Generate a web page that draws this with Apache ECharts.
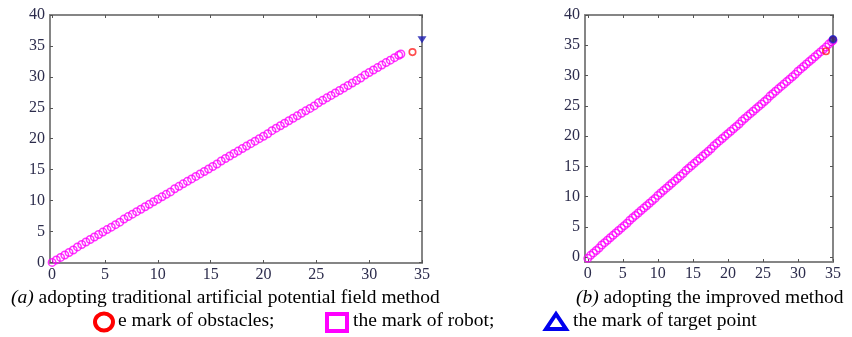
<!DOCTYPE html>
<html>
<head>
<meta charset="utf-8">
<script src="https://cdn.jsdelivr.net/npm/echarts@6/dist/echarts.min.js"></script>
<style>html,body{margin:0;padding:0;background:#fff;}#c{width:852px;height:337px;}</style>
</head>
<body>
<div id="c"></div>
<script>
// tick labels
var xTicks = [0, 5, 10, 15, 20, 25, 30, 35];
var yTicks = [0, 5, 10, 15, 20, 25, 30, 35, 40];

// (a) traditional APF: robot path
var pathAX = [0,0.4,0.8,1.2,1.6,2.0,2.4,2.8,3.2,3.6,4.0,4.4,4.8,5.2,5.6,6.0,6.4,6.8,7.2,7.6,8.0,8.4,8.8,9.2,9.6,10.0,10.4,10.8,11.2,11.6,12.0,12.4,12.8,13.2,13.6,14.0,14.4,14.8,15.2,15.6,16.0,16.4,16.8,17.2,17.6,18.0,18.4,18.8,19.2,19.6,20.0,20.4,20.8,21.2,21.6,22.0,22.4,22.8,23.2,23.6,24.0,24.4,24.8,25.2,25.6,26.0,26.4,26.8,27.2,27.6,28.0,28.4,28.8,29.2,29.6,30.0,30.4,30.8,31.2,31.6,32.0,32.4,32.8,33.0];
var pathAY = [0,0.4,0.8,1.2,1.6,2.0,2.5,2.9,3.3,3.7,4.1,4.5,4.9,5.3,5.7,6.1,6.5,7.0,7.4,7.8,8.2,8.6,9.0,9.4,9.8,10.2,10.6,11.0,11.4,11.9,12.3,12.7,13.1,13.5,13.9,14.3,14.7,15.1,15.5,15.9,16.4,16.8,17.2,17.6,18.0,18.4,18.8,19.2,19.6,20.0,20.4,20.8,21.3,21.7,22.1,22.5,22.9,23.3,23.7,24.1,24.5,24.9,25.3,25.8,26.2,26.6,27.0,27.4,27.8,28.2,28.6,29.0,29.4,29.8,30.3,30.7,31.1,31.5,31.9,32.3,32.7,33.1,33.5,33.7];
var obstacleA = [34.1, 34.0];
var targetA = [35, 36];

// (b) improved method: robot path
var pathBX = [0,0.4,0.8,1.2,1.6,2.0,2.4,2.8,3.2,3.6,4.0,4.4,4.8,5.2,5.6,6.0,6.4,6.8,7.2,7.6,8.0,8.4,8.8,9.2,9.6,10.0,10.4,10.8,11.2,11.6,12.0,12.4,12.8,13.2,13.6,14.0,14.4,14.8,15.2,15.6,16.0,16.4,16.8,17.2,17.6,18.0,18.4,18.8,19.2,19.6,20.0,20.4,20.8,21.2,21.6,22.0,22.4,22.8,23.2,23.6,24.0,24.4,24.8,25.2,25.6,26.0,26.4,26.8,27.2,27.6,28.0,28.4,28.8,29.2,29.6,30.0,30.4,30.8,31.2,31.6,32.0,32.4,32.8,33.2,33.6,34.0,34.4,34.8,35.0];
var pathBY = [-0.2,0.3,0.7,1.1,1.5,2.0,2.4,2.8,3.2,3.6,4.0,4.4,4.8,5.2,5.6,6.1,6.5,6.9,7.3,7.7,8.1,8.5,8.9,9.3,9.7,10.2,10.6,11.0,11.4,11.8,12.2,12.6,13.0,13.4,13.8,14.3,14.7,15.1,15.5,15.9,16.3,16.7,17.1,17.5,17.9,18.4,18.8,19.2,19.6,20.0,20.4,20.8,21.2,21.6,22.0,22.5,22.9,23.3,23.7,24.1,24.5,24.9,25.3,25.7,26.1,26.6,27.0,27.4,27.8,28.2,28.6,29.0,29.4,29.8,30.2,30.7,31.1,31.5,31.9,32.3,32.7,33.1,33.5,33.9,34.3,34.7,35.2,35.6,35.8];
var obstacleB = [34.0, 34.0];
var targetB = [35, 36];

function zip(xs, ys) { return xs.map(function (x, i) { return [x, ys[i]]; }); }

var serif = '"Liberation Serif", "DejaVu Serif", serif';
var labelColor = '#2c2c4c';
var boxColor = '#858585';
var capFont = '19.5px ' + serif;

function xAx(gi, min, pos) {
  var main = pos === 'bottom';
  return {
    type: 'value', gridIndex: gi, min: min, max: 35, position: pos,
    axisLine: { show: true, onZero: false, lineStyle: { color: boxColor, width: 2 } },
    axisTick: { show: true, inside: true, length: 3, customValues: xTicks, lineStyle: { color: '#555', width: 1 } },
    axisLabel: { show: main, customValues: xTicks, fontFamily: serif, fontSize: 16, color: labelColor, margin: 4 },
    splitLine: { show: false }
  };
}
function yAx(gi, min, pos) {
  var main = pos === 'left';
  return {
    type: 'value', gridIndex: gi, min: min, max: 40, position: pos,
    axisLine: { show: true, onZero: false, lineStyle: { color: boxColor, width: 2 } },
    axisTick: { show: true, inside: true, length: 3, customValues: yTicks, lineStyle: { color: '#555', width: 1 } },
    axisLabel: { show: main, customValues: yTicks, fontFamily: serif, fontSize: 16, color: labelColor, margin: 5 },
    splitLine: { show: false }
  };
}

var robotStyle = { color: 'rgba(0,0,0,0)', borderColor: '#ff00ff', borderWidth: 1.5 };

var option = {
  backgroundColor: '#fff',
  animation: false,
  grid: [
    { left: 50, right: 430, top: 15, bottom: 74 },
    { left: 585, right: 19, top: 15, bottom: 75 }
  ],
  xAxis: [xAx(0, -0.2, 'bottom'), xAx(0, -0.2, 'top'), xAx(1, -0.4, 'bottom'), xAx(1, -0.4, 'top')],
  yAxis: [yAx(0, -0.1, 'left'), yAx(0, -0.1, 'right'), yAx(1, -0.8, 'left'), yAx(1, -0.8, 'right')],
  series: [
    { type: 'scatter', xAxisIndex: 0, yAxisIndex: 0, clip: false, symbol: 'circle', symbolSize: 7.5,
      itemStyle: robotStyle, data: zip(pathAX, pathAY) },
    { type: 'scatter', xAxisIndex: 0, yAxisIndex: 0, clip: false, symbol: 'circle', symbolSize: 6.5,
      itemStyle: { color: 'rgba(0,0,0,0)', borderColor: '#ff2020', borderWidth: 1.6 }, data: [obstacleA] },
    { type: 'scatter', xAxisIndex: 0, yAxisIndex: 0, clip: false, symbol: 'triangle', symbolRotate: 180, symbolSize: [9, 7],
      itemStyle: { color: '#1a1ab0' }, data: [targetA] },
    { type: 'scatter', xAxisIndex: 2, yAxisIndex: 2, clip: false, symbol: 'circle', symbolSize: 7.5,
      itemStyle: robotStyle, data: zip(pathBX, pathBY) },
    { type: 'scatter', xAxisIndex: 2, yAxisIndex: 2, clip: false, symbol: 'circle', symbolSize: 6.5,
      itemStyle: { color: 'rgba(0,0,0,0)', borderColor: '#ff2020', borderWidth: 1.6 }, data: [obstacleB] },
    { type: 'scatter', xAxisIndex: 2, yAxisIndex: 2, clip: false, symbol: 'circle', symbolSize: 7,
      itemStyle: { color: '#202060', borderColor: '#2020d0', borderWidth: 1.5 }, data: [targetB] }
  ],
  graphic: [
    { type: 'text', left: 11, top: 288, style: { text: '{i|(a)} adopting traditional artificial potential field method',
      font: capFont, fill: '#000', rich: { i: { fontStyle: 'italic', fontFamily: serif, fontSize: 19.5 } } } },
    { type: 'text', left: 576, top: 288, style: { text: '{i|(b)} adopting the improved method',
      font: capFont, fill: '#000', rich: { i: { fontStyle: 'italic', fontFamily: serif, fontSize: 19.5 } } } },
    { type: 'ellipse', shape: { cx: 104, cy: 322, rx: 9, ry: 8.5 }, style: { fill: 'none', stroke: '#ff0000', lineWidth: 4 } },
    { type: 'text', left: 118, top: 311, style: { text: 'e mark of obstacles;', font: capFont, fill: '#000' } },
    { type: 'rect', shape: { x: 327, y: 314, width: 20, height: 17 }, style: { fill: 'none', stroke: '#ff00ff', lineWidth: 4 } },
    { type: 'text', left: 353, top: 311, style: { text: 'the mark of robot;', font: capFont, fill: '#000' } },
    { type: 'polygon', shape: { points: [[556, 314], [546, 329], [566, 329]] }, style: { fill: 'none', stroke: '#0000ee', lineWidth: 4, lineJoin: 'miter' } },
    { type: 'text', left: 573, top: 311, style: { text: 'the mark of target point', font: capFont, fill: '#000' } }
  ]
};

var chart = echarts.init(document.getElementById('c'), null, { renderer: 'canvas' });
chart.setOption(option);
</script>
</body>
</html>
